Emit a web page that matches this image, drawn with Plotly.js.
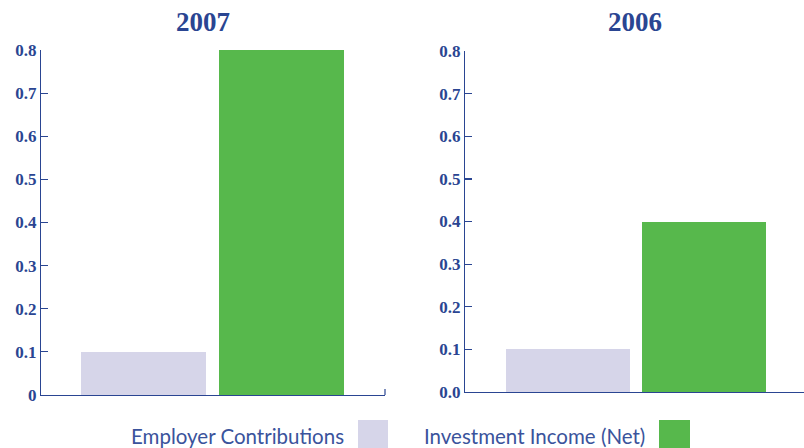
<!DOCTYPE html>
<html><head><meta charset="utf-8">
<script src="https://cdn.plot.ly/plotly-3.0.1.min.js"></script>
<style>html,body{margin:0;padding:0;background:#fff}#c{width:804px;height:448px}</style>
</head><body><div id="c"></div>
<script>
const categories = ["Employer Contributions", "Investment Income (Net)"];
const years = ["2007", "2006"];
const values2007 = [0.1, 0.8];
const values2006 = [0.1, 0.4];
const tickVals = [0, 0.1, 0.2, 0.3, 0.4, 0.5, 0.6, 0.7, 0.8];
const tickText2007 = ["0", "0.1", "0.2", "0.3", "0.4", "0.5", "0.6", "0.7", "0.8"];
const tickText2006 = ["0.0", "0.1", "0.2", "0.3", "0.4", "0.5", "0.6", "0.7", "0.8"];
const barColors = ["#d6d5e9", "#57b84c"];

const navy = "#2a4592";
const serif = "Liberation Serif, DejaVu Serif, serif";
const sans = "Lato, Open Sans, sans-serif";

const traces = [
  {type:"bar", x:[0,1], y:values2007, marker:{color:barColors}, width:0.906, xaxis:"x", yaxis:"y", showlegend:false, hoverinfo:"skip"},
  {type:"bar", x:[0,1], y:values2006, marker:{color:barColors}, width:0.91, xaxis:"x2", yaxis:"y2", showlegend:false, hoverinfo:"skip"}
];

const yCommon = {
  range:[0,0.8], tickvals:tickVals, showgrid:false, zeroline:false,
  showline:true, linecolor:navy, linewidth:1.2,
  ticks:"inside", ticklen:7, tickcolor:navy, tickwidth:1.2,
  tickfont:{family:serif, size:17, color:navy, weight:"bold"}
};
const xCommon = {showgrid:false, zeroline:false, showticklabels:false, ticks:"", showline:true, linecolor:navy, linewidth:1.2, fixedrange:true};

const layout = {
  width:804, height:448, margin:{l:0,r:0,t:0,b:0},
  paper_bgcolor:"#fff", plot_bgcolor:"rgba(0,0,0,0)",
  bargap:0,
  xaxis: Object.assign({}, xCommon, {domain:[0.051,0.479], range:[-0.743,1.75], anchor:"y"}),
  yaxis: Object.assign({}, yCommon, {domain:[0.1183,0.8884], ticktext:tickText2007, anchor:"x"}),
  xaxis2: Object.assign({}, xCommon, {domain:[0.5784,1.0], range:[-0.757,1.735], anchor:"y2"}),
  yaxis2: Object.assign({}, yCommon, {domain:[0.125,0.886], ticktext:tickText2006, anchor:"x2"}),
  annotations:[
    {text:years[0], xref:"paper", yref:"paper", x:203/804, y:1-22/448, xanchor:"center", yanchor:"middle", showarrow:false, font:{family:serif, size:27, color:navy, weight:"bold"}},
    {text:years[1], xref:"paper", yref:"paper", x:635/804, y:1-22/448, xanchor:"center", yanchor:"middle", showarrow:false, font:{family:serif, size:27, color:navy, weight:"bold"}},
    {text:categories[0], xref:"paper", yref:"paper", x:346/804, y:1-436/448, xanchor:"right", yanchor:"middle", showarrow:false, font:{family:sans, size:20.5, color:"#3a539c"}},
    {text:categories[1], xref:"paper", yref:"paper", x:647/804, y:1-436/448, xanchor:"right", yanchor:"middle", showarrow:false, font:{family:sans, size:20.5, color:"#3a539c"}}
  ],
  shapes:[
    {type:"rect", xref:"paper", yref:"paper", x0:358/804, x1:388/804, y0:0, y1:1-420/448, fillcolor:barColors[0], line:{width:0}},
    {type:"rect", xref:"paper", yref:"paper", x0:659/804, x1:690/804, y0:0, y1:1-420/448, fillcolor:barColors[1], line:{width:0}},
    {type:"line", xref:"paper", yref:"paper", x0:385/804, x1:385/804, y0:1-395/448, y1:1-389/448, line:{color:navy, width:1.2}}
  ]
};
Plotly.newPlot("c", traces, layout, {staticPlot:true, displayModeBar:false});
</script></body></html>
